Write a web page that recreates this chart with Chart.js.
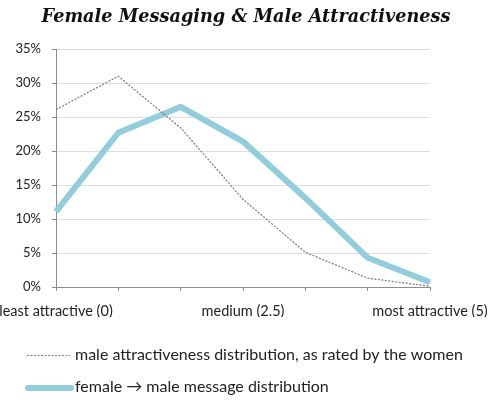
<!DOCTYPE html>
<html><head><meta charset="utf-8">
<script src="https://cdn.jsdelivr.net/npm/chart.js@4"></script>
<style>html,body{margin:0;padding:0;background:#fff}#wrap{width:492px;height:404px}</style>
</head><body><div id="wrap"><canvas id="c" width="492" height="404"></canvas></div>
<script>
const categories = ['least attractive (0)', '', '', 'medium (2.5)', '', '', 'most attractive (5)'];
const maleAttractiveness = [26.1, 31.0, 23.4, 12.9, 5.1, 1.3, 0.1];
const femaleMessages = [11.1, 22.7, 26.5, 21.4, 13.1, 4.3, 0.7];
const yTicks = [0, 5, 10, 15, 20, 25, 30, 35];
const seriesNames = ['male attractiveness distribution, as rated by the women', 'female \u2192 male message distribution'];
const titleText = 'Female Messaging & Male Attractiveness';

const legendPlugin = {
  id: 'customLegend',
  afterDraw(chart) {
    const ctx = chart.ctx;
    ctx.save();
    ctx.font = '16px Lato, "Noto Sans", sans-serif';
    ctx.fillStyle = '#222';
    ctx.textBaseline = 'middle';
    ctx.strokeStyle = '#7a7a7a';
    ctx.lineWidth = 1.2;
    ctx.setLineDash([2, 1.5]);
    ctx.beginPath(); ctx.moveTo(27, 355.5); ctx.lineTo(70, 355.5); ctx.stroke();
    ctx.setLineDash([]);
    ctx.fillText(chart.data.datasets[0].label, 75, 355);
    ctx.strokeStyle = '#92CDDC';
    ctx.lineWidth = 6;
    ctx.lineCap = 'round';
    ctx.beginPath(); ctx.moveTo(28, 388); ctx.lineTo(71, 388); ctx.stroke();
    ctx.fillText(chart.data.datasets[1].label, 75, 387);
    ctx.restore();
  }
};

new Chart(document.getElementById('c'), {
  type: 'line',
  data: {
    labels: categories,
    datasets: [
      { label: seriesNames[0], data: maleAttractiveness, borderColor: '#7a7a7a', borderWidth: 1.2, borderDash: [2, 1.5], pointRadius: 0, tension: 0, fill: false },
      { label: seriesNames[1], data: femaleMessages, borderColor: '#92CDDC', borderWidth: 6, pointRadius: 0, tension: 0, fill: false, borderJoinStyle: 'miter' }
    ]
  },
  options: {
    responsive: false,
    animation: false,
    devicePixelRatio: 1,
    layout: { padding: { left: 0, right: 0, top: 0, bottom: 87 } },
    plugins: {
      legend: { display: false },
      tooltip: { enabled: false },
      title: {
        display: true,
        text: titleText,
        color: '#111',
        font: { family: '"DejaVu Serif", serif', size: 17.7, style: 'italic', weight: 'bold', lineHeight: 1.2 },
        padding: { top: 6.5, bottom: 21.3 }
      }
    },
    scales: {
      x: {
        offset: false,
        grid: { drawOnChartArea: false, drawTicks: true, tickLength: 4, color: '#8c8c8c' },
        border: { color: '#8c8c8c', width: 1 },
        ticks: { autoSkip: false, maxRotation: 0, color: '#222', padding: 12, font: { family: 'Lato, "Noto Sans", sans-serif', size: 14.5 } },
        afterFit(s) { s.paddingLeft = 0; s.paddingRight = 62; s.height = 30; }
      },
      y: {
        min: 0, max: 35,
        afterBuildTicks(s) { s.ticks = yTicks.map(v => ({ value: v })); },
        grid: { color: '#dedede', tickColor: '#8c8c8c', tickLength: 4, drawTicks: true },
        border: { color: '#8c8c8c', width: 1 },
        ticks: { color: '#222', padding: 11, font: { family: 'Lato, "Noto Sans", sans-serif', size: 13 }, callback: v => v + '%' },
        afterFit(s) { s.width = 56; s.paddingTop = 0; s.paddingBottom = 0; }
      }
    }
  },
  plugins: [legendPlugin]
});
</script>
</body></html>
